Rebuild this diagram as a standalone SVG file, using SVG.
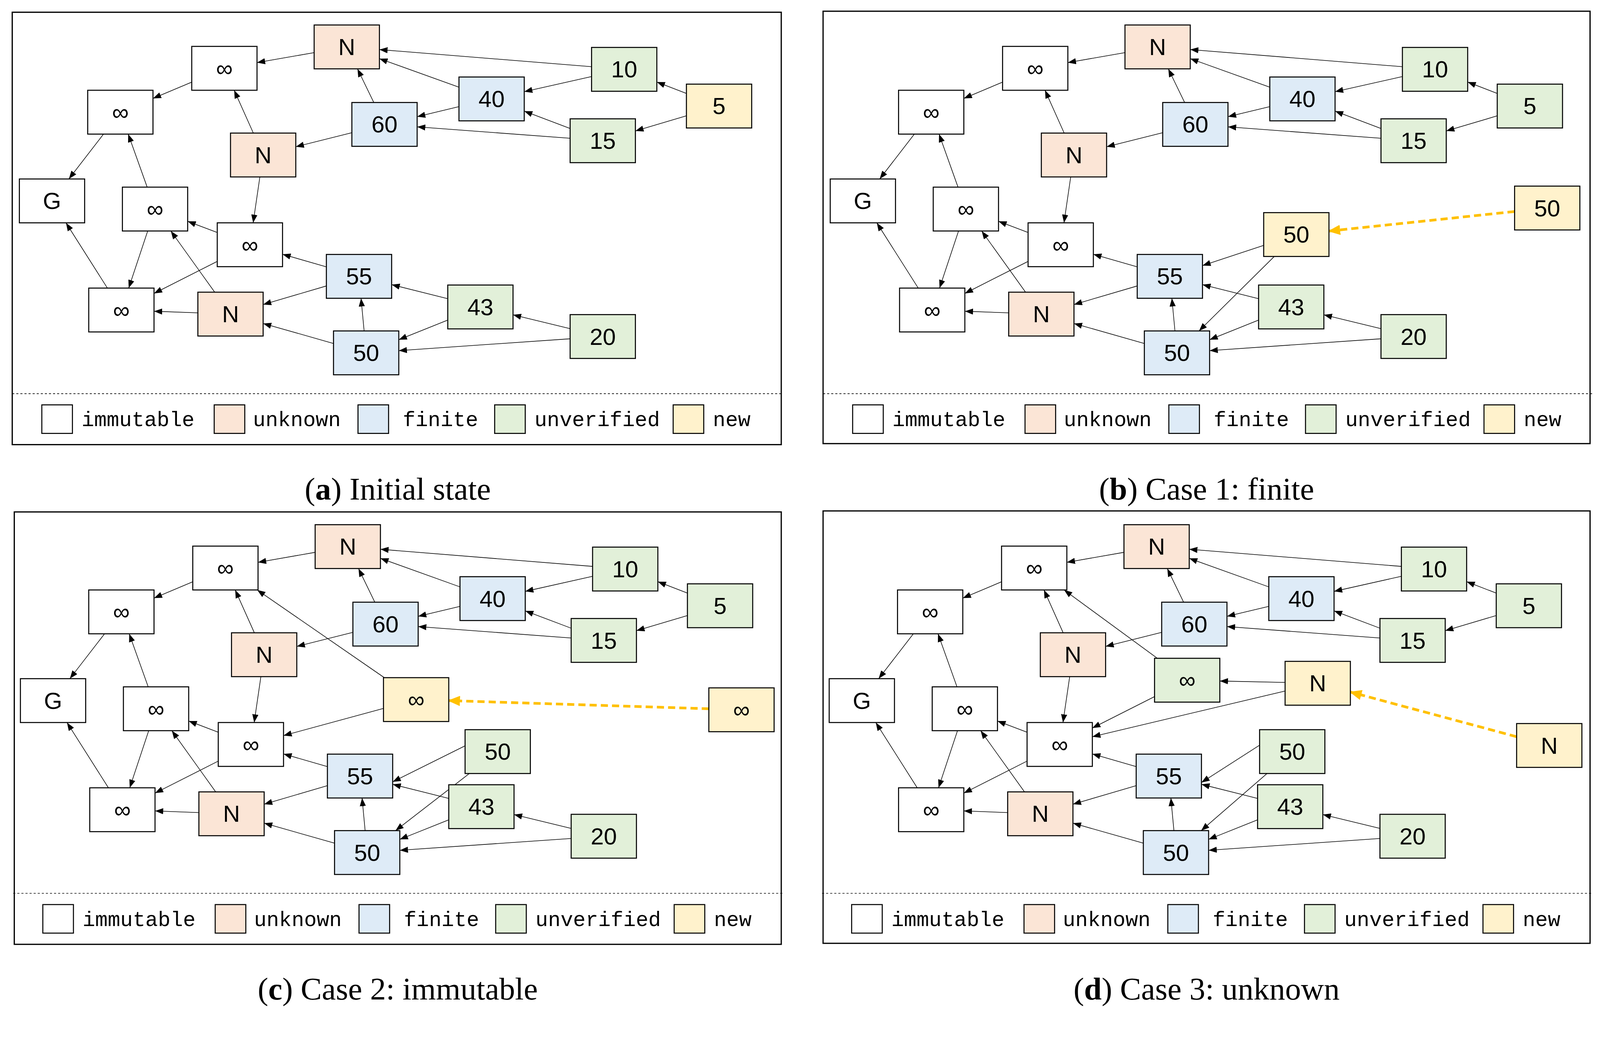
<svg xmlns="http://www.w3.org/2000/svg" xmlns:xlink="http://www.w3.org/1999/xlink" width="4249" height="2696" viewBox="0 0 4249 2696">
<style>
rect.n{stroke:#000;stroke-width:1}
.imm{fill:#fff}.unk{fill:#FBE5D6}.fin{fill:#DEEBF7}.unv{fill:#E2F0D9}.new{fill:#FFF2CC}
text.l{font-family:"Liberation Sans",Arial,sans-serif;font-size:23px;text-anchor:middle;fill:#000}
text.g{font-family:"Liberation Mono","DejaVu Sans Mono",monospace;font-size:20.5px;fill:#000}
text.cap{font-family:"Liberation Serif","Times New Roman",serif;font-size:31px;text-anchor:middle;fill:#000}
line.e{stroke:#000;stroke-width:0.6;marker-end:url(#ah)}
line.d{stroke:#FFC000;stroke-width:2.6;stroke-dasharray:7 4;marker-end:url(#ahy)}
rect.f{fill:none;stroke:#000;stroke-width:1.2}
line.sep{stroke:#000;stroke-width:0.6;stroke-dasharray:2 2}
</style>
<defs>
<marker id="ah" markerUnits="userSpaceOnUse" markerWidth="8" markerHeight="6" refX="8" refY="3" orient="auto"><path d="M0,0 L8,3 L0,6 z" fill="#000"/></marker>
<marker id="ahy" markerUnits="userSpaceOnUse" markerWidth="12" markerHeight="10" refX="11" refY="5" orient="auto"><path d="M0,0 L12,5 L0,10 z" fill="#FFC000"/></marker>
<g id="be">
<line class="e" x1="308" y1="51.6" x2="252" y2="61.4"/>
<line class="e" x1="188" y1="80.5" x2="150" y2="96.5"/>
<line class="e" x1="101.5" y1="131.5" x2="67.5" y2="175.5"/>
<line class="e" x1="580" y1="65.4" x2="372" y2="48.6"/>
<line class="e" x1="450" y1="85.5" x2="372" y2="57.5"/>
<line class="e" x1="366.5" y1="100.5" x2="350.5" y2="67.5"/>
<line class="e" x1="580" y1="75.1" x2="514" y2="89.9"/>
<line class="e" x1="450" y1="104.6" x2="409" y2="114.4"/>
<line class="e" x1="559" y1="126" x2="514" y2="109"/>
<line class="e" x1="559" y1="135.6" x2="409" y2="124.4"/>
<line class="e" x1="673" y1="91.6" x2="644" y2="80.4"/>
<line class="e" x1="673" y1="113.6" x2="623" y2="128.4"/>
<line class="e" x1="345" y1="130.1" x2="290" y2="143.9"/>
<line class="e" x1="248.4" y1="130.5" x2="229.6" y2="88.5"/>
<line class="e" x1="254.8" y1="173.5" x2="248.2" y2="218.5"/>
<line class="e" x1="144.3" y1="183.5" x2="125.7" y2="131.5"/>
<line class="e" x1="213" y1="228" x2="184" y2="217"/>
<line class="e" x1="144.8" y1="226.5" x2="126.2" y2="282.5"/>
<line class="e" x1="105.3" y1="282.5" x2="64.7" y2="218.5"/>
<line class="e" x1="213" y1="256.3" x2="151" y2="287.7"/>
<line class="e" x1="194" y1="306.8" x2="151" y2="305.2"/>
<line class="e" x1="210.5" y1="286.5" x2="167.5" y2="226.5"/>
<line class="e" x1="320" y1="261.7" x2="277" y2="249.3"/>
<line class="e" x1="320" y1="280.4" x2="258" y2="298.6"/>
<line class="e" x1="327" y1="336.8" x2="258" y2="317.2"/>
<line class="e" x1="357" y1="324.5" x2="354" y2="292.5"/>
<line class="e" x1="439" y1="292.9" x2="384" y2="279.1"/>
<line class="e" x1="439" y1="313.9" x2="391" y2="333.1"/>
<line class="e" x1="559" y1="322.3" x2="503" y2="308.7"/>
<line class="e" x1="559" y1="332.2" x2="391" y2="343.8"/>
</g>
<g id="leg">
<line class="sep" x1="12" y1="386" x2="766" y2="386"/>
<rect class="n imm" x="41" y="397" width="30" height="28"/><text class="g" x="80" y="418">immutable</text>
<rect class="n unk" x="210" y="397" width="30" height="28"/><text class="g" x="248" y="418">unknown</text>
<rect class="n fin" x="351" y="397" width="30" height="28"/><text class="g" x="395" y="418">finite</text>
<rect class="n unv" x="485" y="397" width="30" height="28"/><text class="g" x="524" y="418">unverified</text>
<rect class="n new" x="660" y="397" width="30" height="28"/><text class="g" x="699" y="418">new</text>
</g>
</defs>
<rect width="4249" height="2696" fill="#fff"/>
<g transform="scale(2.611)">
<rect class="f" x="12" y="12" width="754" height="424"/>
<rect class="f" x="807" y="11" width="752" height="424"/>
<rect class="f" x="14" y="502" width="752" height="424"/>
<rect class="f" x="807" y="501" width="752" height="424"/>
<text class="cap" x="390" y="490">(<tspan font-weight="bold">a</tspan>) Initial state</text>
<text class="cap" x="1183" y="490">(<tspan font-weight="bold">b</tspan>) Case 1: finite</text>
<text class="cap" x="390" y="980">(<tspan font-weight="bold">c</tspan>) Case 2: immutable</text>
<text class="cap" x="1183" y="980">(<tspan font-weight="bold">d</tspan>) Case 3: unknown</text>

<g id="panel-a">
<g id="a-edges"><use xlink:href="#be"/></g>
<g id="a-N1"><rect class="n unk" x="308" y="24.5" width="64" height="43"/><text class="l" x="340" y="54">N</text></g>
<g id="a-I1"><rect class="n imm" x="188" y="45.5" width="64" height="43"/><text class="l" x="220" y="75">∞</text></g>
<g id="a-I2"><rect class="n imm" x="86" y="88.5" width="64" height="43"/><text class="l" x="118" y="118">∞</text></g>
<g id="a-G"><rect class="n imm" x="19" y="175.5" width="64" height="43"/><text class="l" x="51" y="205">G</text></g>
<g id="a-I3"><rect class="n imm" x="120" y="183.5" width="64" height="43"/><text class="l" x="152" y="213">∞</text></g>
<g id="a-I4"><rect class="n imm" x="213" y="218.5" width="64" height="43"/><text class="l" x="245" y="248">∞</text></g>
<g id="a-I5"><rect class="n imm" x="87" y="282.5" width="64" height="43"/><text class="l" x="119" y="312">∞</text></g>
<g id="a-N2"><rect class="n unk" x="226" y="130.5" width="64" height="43"/><text class="l" x="258" y="160">N</text></g>
<g id="a-N3"><rect class="n unk" x="194" y="286.5" width="64" height="43"/><text class="l" x="226" y="316">N</text></g>
<g id="a-60"><rect class="n fin" x="345" y="100.5" width="64" height="43"/><text class="l" x="377" y="130">60</text></g>
<g id="a-40"><rect class="n fin" x="450" y="75.5" width="64" height="43"/><text class="l" x="482" y="105">40</text></g>
<g id="a-10"><rect class="n unv" x="580" y="46.5" width="64" height="43"/><text class="l" x="612" y="76">10</text></g>
<g id="a-15"><rect class="n unv" x="559" y="116.5" width="64" height="43"/><text class="l" x="591" y="146">15</text></g>
<g id="a-5"><rect class="n new" x="673" y="82.5" width="64" height="43"/><text class="l" x="705" y="112">5</text></g>
<g id="a-55"><rect class="n fin" x="320" y="249.5" width="64" height="43"/><text class="l" x="352" y="279">55</text></g>
<g id="a-50"><rect class="n fin" x="327" y="324.5" width="64" height="43"/><text class="l" x="359" y="354">50</text></g>
<g id="a-43"><rect class="n unv" x="439" y="279.5" width="64" height="43"/><text class="l" x="471" y="309">43</text></g>
<g id="a-20"><rect class="n unv" x="559" y="308.5" width="64" height="43"/><text class="l" x="591" y="338">20</text></g>
<use xlink:href="#leg"/>
</g>

<g id="panel-b" transform="translate(795,0)">
<g id="b-edges"><use xlink:href="#be"/>
<line class="e" x1="444" y1="240.6" x2="384" y2="260.4"/>
<line class="e" x1="454.4" y1="251.5" x2="380.6" y2="324.5"/>
<line class="d" x1="690" y1="207.4" x2="508" y2="226.6"/>
</g>
<g id="b-N1"><rect class="n unk" x="308" y="24.5" width="64" height="43"/><text class="l" x="340" y="54">N</text></g>
<g id="b-I1"><rect class="n imm" x="188" y="45.5" width="64" height="43"/><text class="l" x="220" y="75">∞</text></g>
<g id="b-I2"><rect class="n imm" x="86" y="88.5" width="64" height="43"/><text class="l" x="118" y="118">∞</text></g>
<g id="b-G"><rect class="n imm" x="19" y="175.5" width="64" height="43"/><text class="l" x="51" y="205">G</text></g>
<g id="b-I3"><rect class="n imm" x="120" y="183.5" width="64" height="43"/><text class="l" x="152" y="213">∞</text></g>
<g id="b-I4"><rect class="n imm" x="213" y="218.5" width="64" height="43"/><text class="l" x="245" y="248">∞</text></g>
<g id="b-I5"><rect class="n imm" x="87" y="282.5" width="64" height="43"/><text class="l" x="119" y="312">∞</text></g>
<g id="b-N2"><rect class="n unk" x="226" y="130.5" width="64" height="43"/><text class="l" x="258" y="160">N</text></g>
<g id="b-N3"><rect class="n unk" x="194" y="286.5" width="64" height="43"/><text class="l" x="226" y="316">N</text></g>
<g id="b-60"><rect class="n fin" x="345" y="100.5" width="64" height="43"/><text class="l" x="377" y="130">60</text></g>
<g id="b-40"><rect class="n fin" x="450" y="75.5" width="64" height="43"/><text class="l" x="482" y="105">40</text></g>
<g id="b-10"><rect class="n unv" x="580" y="46.5" width="64" height="43"/><text class="l" x="612" y="76">10</text></g>
<g id="b-15"><rect class="n unv" x="559" y="116.5" width="64" height="43"/><text class="l" x="591" y="146">15</text></g>
<g id="b-5"><rect class="n unv" x="673" y="82.5" width="64" height="43"/><text class="l" x="705" y="112">5</text></g>
<g id="b-55"><rect class="n fin" x="320" y="249.5" width="64" height="43"/><text class="l" x="352" y="279">55</text></g>
<g id="b-50"><rect class="n fin" x="327" y="324.5" width="64" height="43"/><text class="l" x="359" y="354">50</text></g>
<g id="b-43"><rect class="n unv" x="439" y="279.5" width="64" height="43"/><text class="l" x="471" y="309">43</text></g>
<g id="b-20"><rect class="n unv" x="559" y="308.5" width="64" height="43"/><text class="l" x="591" y="338">20</text></g>
<g id="b-new50"><rect class="n new" x="444" y="208.5" width="64" height="43"/><text class="l" x="476" y="238">50</text></g>
<g id="b-ext50"><rect class="n new" x="690" y="182.5" width="64" height="43"/><text class="l" x="722" y="212">50</text></g>
<use xlink:href="#leg"/>
</g>

<g id="panel-c" transform="translate(1,490)">
<g id="c-edges"><use xlink:href="#be"/>
<line class="e" x1="375" y1="204.7" x2="277" y2="231.3"/>
<line class="e" x1="375.8" y1="174.5" x2="251.2" y2="88.5"/>
<line class="e" x1="455" y1="241.3" x2="384" y2="276.7"/>
<line class="e" x1="459.2" y1="268.5" x2="386.8" y2="324.5"/>
<line class="d" x1="694" y1="205" x2="439" y2="197"/>
</g>
<g id="c-N1"><rect class="n unk" x="308" y="24.5" width="64" height="43"/><text class="l" x="340" y="54">N</text></g>
<g id="c-I1"><rect class="n imm" x="188" y="45.5" width="64" height="43"/><text class="l" x="220" y="75">∞</text></g>
<g id="c-I2"><rect class="n imm" x="86" y="88.5" width="64" height="43"/><text class="l" x="118" y="118">∞</text></g>
<g id="c-G"><rect class="n imm" x="19" y="175.5" width="64" height="43"/><text class="l" x="51" y="205">G</text></g>
<g id="c-I3"><rect class="n imm" x="120" y="183.5" width="64" height="43"/><text class="l" x="152" y="213">∞</text></g>
<g id="c-I4"><rect class="n imm" x="213" y="218.5" width="64" height="43"/><text class="l" x="245" y="248">∞</text></g>
<g id="c-I5"><rect class="n imm" x="87" y="282.5" width="64" height="43"/><text class="l" x="119" y="312">∞</text></g>
<g id="c-N2"><rect class="n unk" x="226" y="130.5" width="64" height="43"/><text class="l" x="258" y="160">N</text></g>
<g id="c-N3"><rect class="n unk" x="194" y="286.5" width="64" height="43"/><text class="l" x="226" y="316">N</text></g>
<g id="c-60"><rect class="n fin" x="345" y="100.5" width="64" height="43"/><text class="l" x="377" y="130">60</text></g>
<g id="c-40"><rect class="n fin" x="450" y="75.5" width="64" height="43"/><text class="l" x="482" y="105">40</text></g>
<g id="c-10"><rect class="n unv" x="580" y="46.5" width="64" height="43"/><text class="l" x="612" y="76">10</text></g>
<g id="c-15"><rect class="n unv" x="559" y="116.5" width="64" height="43"/><text class="l" x="591" y="146">15</text></g>
<g id="c-5"><rect class="n unv" x="673" y="82.5" width="64" height="43"/><text class="l" x="705" y="112">5</text></g>
<g id="c-55"><rect class="n fin" x="320" y="249.5" width="64" height="43"/><text class="l" x="352" y="279">55</text></g>
<g id="c-50"><rect class="n fin" x="327" y="324.5" width="64" height="43"/><text class="l" x="359" y="354">50</text></g>
<g id="c-43"><rect class="n unv" x="439" y="279.5" width="64" height="43"/><text class="l" x="471" y="309">43</text></g>
<g id="c-20"><rect class="n unv" x="559" y="308.5" width="64" height="43"/><text class="l" x="591" y="338">20</text></g>
<g id="c-newInf"><rect class="n new" x="375" y="174.5" width="64" height="43"/><text class="l" x="407" y="204">∞</text></g>
<g id="c-extInf"><rect class="n new" x="694" y="184.5" width="64" height="43"/><text class="l" x="726" y="214">∞</text></g>
<g id="c-g50"><rect class="n unv" x="455" y="225.5" width="64" height="43"/><text class="l" x="487" y="255">50</text></g>
<use xlink:href="#leg"/>
</g>

<g id="panel-d" transform="translate(794,490)">
<g id="d-edges"><use xlink:href="#be"/>
<line class="e" x1="466" y1="179.2" x2="402" y2="177.8"/>
<line class="e" x1="466" y1="187.6" x2="277" y2="232.4"/>
<line class="e" x1="338" y1="193.1" x2="277" y2="223.9"/>
<line class="e" x1="340.7" y1="155.5" x2="249.3" y2="88.5"/>
<line class="e" x1="441" y1="240.7" x2="384" y2="277.3"/>
<line class="e" x1="448.3" y1="268.5" x2="383.7" y2="324.5"/>
<line class="d" x1="693" y1="232.4" x2="530" y2="188.6"/>
</g>
<g id="d-N1"><rect class="n unk" x="308" y="24.5" width="64" height="43"/><text class="l" x="340" y="54">N</text></g>
<g id="d-I1"><rect class="n imm" x="188" y="45.5" width="64" height="43"/><text class="l" x="220" y="75">∞</text></g>
<g id="d-I2"><rect class="n imm" x="86" y="88.5" width="64" height="43"/><text class="l" x="118" y="118">∞</text></g>
<g id="d-G"><rect class="n imm" x="19" y="175.5" width="64" height="43"/><text class="l" x="51" y="205">G</text></g>
<g id="d-I3"><rect class="n imm" x="120" y="183.5" width="64" height="43"/><text class="l" x="152" y="213">∞</text></g>
<g id="d-I4"><rect class="n imm" x="213" y="218.5" width="64" height="43"/><text class="l" x="245" y="248">∞</text></g>
<g id="d-I5"><rect class="n imm" x="87" y="282.5" width="64" height="43"/><text class="l" x="119" y="312">∞</text></g>
<g id="d-N2"><rect class="n unk" x="226" y="130.5" width="64" height="43"/><text class="l" x="258" y="160">N</text></g>
<g id="d-N3"><rect class="n unk" x="194" y="286.5" width="64" height="43"/><text class="l" x="226" y="316">N</text></g>
<g id="d-60"><rect class="n fin" x="345" y="100.5" width="64" height="43"/><text class="l" x="377" y="130">60</text></g>
<g id="d-40"><rect class="n fin" x="450" y="75.5" width="64" height="43"/><text class="l" x="482" y="105">40</text></g>
<g id="d-10"><rect class="n unv" x="580" y="46.5" width="64" height="43"/><text class="l" x="612" y="76">10</text></g>
<g id="d-15"><rect class="n unv" x="559" y="116.5" width="64" height="43"/><text class="l" x="591" y="146">15</text></g>
<g id="d-5"><rect class="n unv" x="673" y="82.5" width="64" height="43"/><text class="l" x="705" y="112">5</text></g>
<g id="d-55"><rect class="n fin" x="320" y="249.5" width="64" height="43"/><text class="l" x="352" y="279">55</text></g>
<g id="d-50"><rect class="n fin" x="327" y="324.5" width="64" height="43"/><text class="l" x="359" y="354">50</text></g>
<g id="d-43"><rect class="n unv" x="439" y="279.5" width="64" height="43"/><text class="l" x="471" y="309">43</text></g>
<g id="d-20"><rect class="n unv" x="559" y="308.5" width="64" height="43"/><text class="l" x="591" y="338">20</text></g>
<g id="d-gInf"><rect class="n unv" x="338" y="155.5" width="64" height="43"/><text class="l" x="370" y="185">∞</text></g>
<g id="d-newN"><rect class="n new" x="466" y="158.5" width="64" height="43"/><text class="l" x="498" y="188">N</text></g>
<g id="d-extN"><rect class="n new" x="693" y="219.5" width="64" height="43"/><text class="l" x="725" y="249">N</text></g>
<g id="d-g50"><rect class="n unv" x="441" y="225.5" width="64" height="43"/><text class="l" x="473" y="255">50</text></g>
<use xlink:href="#leg"/>
</g>
</g>
</svg>
